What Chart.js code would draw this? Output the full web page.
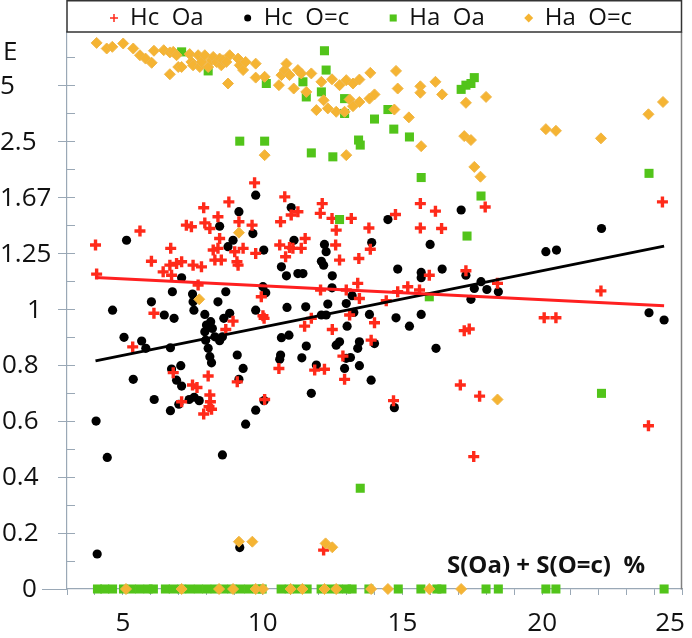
<!DOCTYPE html>
<html>
<head>
<meta charset="utf-8">
<script src="https://cdn.jsdelivr.net/npm/chart.js@4.4.0/dist/chart.umd.min.js"></script>
<style>
    html, body { margin: 0; padding: 0; background: #ffffff; }
</style>
</head>
<body>
<canvas id="scatterChart" width="692" height="638"></canvas>
<script>
(function() {
    'use strict';

    // y values are positions on the folded axis: v <= 1 as is, v > 1 as 2 - 1/v
    const yTickValues = [0, 0.2, 0.4, 0.6, 0.8, 1, 1.2, 1.4, 1.6, 1.8, 1.92];
    const yTickLabels = ['0', '0.2', '0.4', '0.6', '0.8', '1', '1.25', '1.67', '2.5', '5', 'E'];
    const xTickValues = [5, 10, 15, 20, 25];
    const seriesLabels = ['Hc  Oa', 'Hc  O=c', 'Ha  Oa', 'Ha  O=c'];
    const axisTitle = 'S(Oa) + S(O=c)  %';

    const hcOa = [
        [4.02,1.229],[4.06,1.125],[5.61,1.279],[6.02,1.171],[6.11,0.985],[6.44,1.133],[6.68,1.157],
        [6.71,1.217],[6.74,1.121],[6.92,1.163],[7.10,1.169],[7.27,1.300],[7.45,1.294],[7.51,1.157],
        [7.69,1.086],[7.81,1.151],[7.89,1.362],[7.93,1.308],[8.11,1.288],[8.23,1.211],[8.29,1.175],
        [8.40,1.330],[8.46,1.252],[8.40,1.217],[8.52,1.175],[8.79,1.383],[9.00,1.205],[9.08,1.169],
        [9.12,1.157],[9.15,1.312],[9.30,1.217],[9.62,1.300],[9.75,1.199],[9.71,1.451],[9.95,1.044],
        [10.01,0.976],[10.64,1.312],[10.61,1.229],[10.79,1.401],[10.82,1.187],[10.96,1.220],[11.02,1.336],
        [11.08,1.217],[11.26,1.348],[11.38,1.217],[11.52,1.252],[12.06,1.342],[12.13,1.377],[12.48,1.324],
        [12.63,1.282],[12.61,1.229],[12.75,1.175],[12.07,1.068],[13.17,1.324],[13.80,1.290],[14.75,1.338],
        [15.64,1.377],[16.18,1.350],[15.64,1.290],[16.40,1.288],[17.96,1.365],[13.85,1.214],[13.44,1.181],
        [13.40,1.092],[15.19,1.080],[14.83,1.062],[14.42,1.030],[13.46,1.038],[12.99,1.068],[15.61,1.068],
        [15.96,1.121],[17.27,1.137],[18.40,1.092],[22.10,1.065],[24.30,1.383],[13.11,0.979],[5.35,0.865],
        [6.80,0.773],[7.10,0.669],[7.49,0.729],[7.65,0.720],[8.05,0.761],[8.11,0.693],[8.13,0.669],
        [8.08,0.651],[8.17,0.642],[7.89,0.625],[8.68,0.927],[8.94,0.957],[9.09,0.740],[10.05,0.967],
        [10.07,0.677],[10.58,0.788],[11.50,0.939],[11.74,0.967],[11.86,0.782],[12.21,0.785],[12.49,0.927],
        [12.87,0.832],[12.93,0.749],[14.00,0.951],[17.21,0.923],[17.39,0.929],[20.07,0.969],[20.49,0.969],
        [13.88,0.889],[14.68,0.673],[17.07,0.729],[17.76,0.689],[17.55,0.473],[23.80,0.583],[12.18,0.139]
    ];

    const hcOc = [
        [5.13,1.246],[4.63,0.996],[6.02,1.026],[6.48,0.979],[6.77,1.062],[7.10,1.112],[7.49,1.054],
        [7.51,1.026],[7.54,0.996],[7.93,0.981],[8.40,1.026],[8.68,1.062],[8.82,0.985],[8.46,1.296],
        [8.76,1.223],[8.94,1.246],[9.15,1.348],[9.65,1.270],[9.75,1.407],[10.04,1.211],[10.01,1.080],
        [10.11,1.058],[9.75,0.996],[10.67,1.151],[10.85,1.119],[10.87,1.006],[11.02,1.363],[11.12,1.246],
        [11.26,1.127],[11.44,1.127],[11.54,1.008],[12.10,1.171],[12.18,1.157],[12.21,1.231],[12.27,1.205],
        [12.49,1.119],[12.48,1.076],[12.33,1.018],[12.10,0.979],[12.99,1.020],[14.48,1.320],[13.90,1.238],
        [15.99,1.231],[17.10,1.354],[14.83,1.143],[15.67,1.131],[15.67,1.112],[16.42,1.143],[17.27,1.121],
        [17.57,1.074],[17.81,1.098],[18.02,1.070],[18.43,1.062],[17.45,1.035],[20.13,1.205],[20.51,1.211],
        [22.12,1.288],[23.82,0.987],[24.36,0.961],[13.20,1.048],[13.26,0.988],[13.82,0.981],[14.77,0.969],
        [15.67,0.981],[5.04,0.899],[5.67,0.886],[5.82,0.860],[6.83,0.967],[4.04,0.600],[4.44,0.470],
        [5.37,0.749],[6.12,0.677],[6.70,0.862],[6.74,0.786],[7.07,0.798],[6.92,0.746],[7.10,0.725],
        [6.70,0.637],[7.00,0.660],[7.37,0.677],[7.55,0.685],[7.73,0.673],[7.99,0.943],[8.14,0.955],
        [8.20,0.931],[7.93,0.919],[7.96,0.889],[8.05,0.860],[8.11,0.830],[8.17,0.808],[8.29,0.901],
        [8.46,0.887],[8.56,0.901],[8.61,0.967],[9.09,0.836],[9.30,0.788],[9.15,0.749],[9.39,0.589],
        [8.56,0.479],[9.75,0.639],[10.05,0.673],[10.67,0.898],[10.94,0.907],[10.64,0.836],[10.61,0.821],
        [11.40,0.826],[11.56,0.868],[11.74,0.699],[11.92,0.800],[12.27,0.979],[12.63,0.871],[12.75,0.883],
        [12.93,0.788],[12.99,0.824],[13.02,0.939],[15.25,0.939],[13.46,0.883],[13.40,0.860],[14.00,0.877],
        [13.14,0.827],[13.46,0.798],[13.88,0.746],[16.20,0.860],[14.71,0.648],[4.08,0.125],[9.18,0.148]
    ];

    const haOa = [
        [7.10,1.919],[8.05,1.851],[10.13,1.806],[11.44,1.812],[11.56,1.758],[12.10,1.776],[12.21,1.923],
        [12.27,1.854],[12.93,1.752],[12.93,1.699],[9.18,1.600],[10.07,1.600],[11.74,1.558],[12.51,1.544],
        [17.10,1.785],[17.27,1.800],[17.45,1.806],[17.57,1.827],[14.48,1.713],[14.00,1.679],[14.69,1.643],
        [15.25,1.615],[13.43,1.604],[13.49,1.586],[12.75,1.320],[15.67,1.470],[17.81,1.404],[17.31,1.261],
        [23.82,1.485],[15.96,1.044],[22.12,0.699],[13.49,0.360],
        [4.09,0],[4.35,0],[4.63,0],[5.02,0],[5.30,0],[5.60,0],[5.90,0],[6.09,0],[6.52,0],[6.80,0],
        [7.10,0],[7.40,0],[7.70,0],[8.00,0],[8.30,0],[8.60,0],[8.90,0],[9.20,0],[9.50,0],[9.80,0],
        [9.98,0],[10.66,0],[10.95,0],[11.25,0],[11.59,0],[12.09,0],[12.40,0],[12.70,0],[13.00,0],
        [13.20,0],[13.80,0],[14.85,0],[15.66,0],[16.23,0],[16.41,0],[17.99,0],[18.43,0],[20.13,0],
        [20.49,0],[24.36,0]
    ];

    const haOc = [
        [4.06,1.951],[4.42,1.931],[4.62,1.937],[5.01,1.949],[5.37,1.931],[5.61,1.907],[5.81,1.895],
        [6.03,1.880],[6.11,1.923],[6.46,1.925],[6.68,1.917],[6.80,1.919],[6.92,1.907],[6.68,1.839],
        [6.98,1.865],[7.10,1.865],[7.39,1.911],[7.45,1.883],[7.51,1.871],[7.69,1.907],[7.75,1.865],
        [7.81,1.883],[7.93,1.907],[8.05,1.865],[8.17,1.889],[8.23,1.901],[8.35,1.883],[8.46,1.895],
        [8.52,1.871],[8.58,1.889],[8.82,1.907],[8.70,1.883],[8.76,1.806],[9.12,1.895],[9.18,1.871],
        [9.30,1.854],[9.39,1.883],[9.75,1.877],[9.75,1.827],[10.07,1.830],[10.58,1.800],[10.67,1.836],
        [10.79,1.854],[10.85,1.877],[10.96,1.836],[11.11,1.788],[11.26,1.854],[11.38,1.842],[11.56,1.776],
        [11.74,1.842],[11.92,1.711],[12.10,1.812],[12.18,1.746],[12.33,1.717],[12.48,1.821],[12.63,1.705],
        [12.75,1.800],[12.93,1.705],[12.99,1.818],[10.07,1.550],[12.99,1.550],[13.23,1.806],[13.46,1.820],
        [13.85,1.844],[14.77,1.851],[14.83,1.788],[15.64,1.796],[15.64,1.773],[16.18,1.812],[16.42,1.767],
        [17.99,1.758],[17.27,1.737],[13.82,1.752],[14.00,1.767],[13.11,1.749],[13.23,1.725],[13.46,1.740],
        [14.71,1.713],[15.23,1.685],[20.13,1.643],[20.49,1.637],[22.10,1.610],[23.80,1.696],[24.32,1.740],
        [17.21,1.618],[17.45,1.604],[15.67,1.582],[9.15,1.273],[7.73,1.035],[17.57,1.508],[17.79,1.473],
        [18.40,0.677],[9.15,0.169],[9.63,0.169],[12.25,0.163],[12.49,0.149],
        [5.11,0],[7.10,0],[8.44,0],[8.94,0],[9.75,0],[10.01,0],[11.00,0],[11.42,0],[12.21,0],[12.63,0],
        [13.88,0],[14.48,0],[15.96,0],[17.10,0]
    ];

    // fitted trend lines (end points)
    const hcOaTrend = [[4.02,1.113],[24.36,1.012]];
    const hcOcTrend = [[4.02,0.815],[24.36,1.225]];

    const FONT = '"Open Sans", "DejaVu Sans", sans-serif';
    const AXIS_COLOR = '#9aa8b6';
    const toPoints = arr => arr.map(p => ({ x: p[0], y: p[1] }));

    // tick labels, tick marks, legend box and frame
    const framePlugin = {
        id: 'frame',
        afterDraw(chart) {
            const { ctx, chartArea: a, scales: { x, y } } = chart;
            const yLabelLeft = [22, 2, 2, 2, 2, 27, 0, 0, 0, 0, 3];
            ctx.save();

            // y tick marks
            ctx.strokeStyle = AXIS_COLOR;
            ctx.lineWidth = 1;
            for (let i = 1; i <= 19; i++) {
                const py = Math.round(y.getPixelForValue(i / 10)) + 0.5;
                ctx.beginPath();
                ctx.moveTo(a.left - (i % 2 === 0 ? 9 : 0), py);
                ctx.lineTo(a.left + 8, py);
                ctx.stroke();
            }
            // x axis runs past the y axis
            const py0 = Math.round(y.getPixelForValue(0)) + 0.5;
            ctx.beginPath();
            ctx.moveTo(42, py0);
            ctx.lineTo(a.left, py0);
            ctx.stroke();

            // right frame line
            ctx.strokeStyle = '#808080';
            ctx.lineWidth = 1.5;
            ctx.beginPath();
            ctx.moveTo(a.right - 0.5, a.top);
            ctx.lineTo(a.right - 0.5, py0);
            ctx.stroke();

            // tick labels
            ctx.fillStyle = '#111111';
            ctx.font = '26px ' + FONT;
            ctx.textBaseline = 'middle';
            ctx.textAlign = 'left';
            yTickValues.forEach((v, i) => {
                ctx.fillText(yTickLabels[i], yLabelLeft[i], y.getPixelForValue(v) + 1);
            });
            ctx.textAlign = 'center';
            xTickValues.forEach((v, i) => {
                const shift = i === xTickValues.length - 1 ? -12 : 0;
                ctx.fillText(String(v), x.getPixelForValue(v) + shift, 624);
            });

            // axis title inside the plot
            ctx.font = 'bold 24px ' + FONT;
            ctx.textAlign = 'left';
            ctx.fillText(axisTitle, 447, 566, 210);

            // legend box
            ctx.strokeStyle = '#333333';
            ctx.lineWidth = 1.5;
            ctx.strokeRect(a.left, 0.75, a.right - a.left - 0.5, a.top - 0.75);

            ctx.font = '24px ' + FONT;
            ctx.textBaseline = 'middle';
            let lx = 106;
            chart.data.datasets.slice(0, 4).forEach(ds => {
                const w = ctx.measureText(ds.label).width;
                ctx.fillStyle = ds.backgroundColor;
                ctx.strokeStyle = ds.borderColor;
                Chart.helpers.drawPoint(ctx, {
                    pointStyle: ds.pointStyle,
                    radius: ds.legendRadius,
                    borderWidth: ds.pointStyle === 'cross' ? 2.5 : 0,
                    rotation: 0
                }, lx + 8, 18);
                ctx.fillStyle = '#111111';
                ctx.fillText(ds.label, lx + 24, 18);
                lx += 24 + w + 36;
            });
            ctx.restore();
        }
    };

    const ctx = document.getElementById('scatterChart').getContext('2d');

    new Chart(ctx, {
        type: 'scatter',
        data: {
            datasets: [{
                label: seriesLabels[0],
                data: toPoints(hcOa),
                pointStyle: 'cross',
                pointRadius: 5.5,
                pointBorderWidth: 3.4,
                borderColor: '#ff2a1a',
                backgroundColor: '#ff2a1a',
                legendRadius: 4,
                order: 3,
                clip: false
            }, {
                label: seriesLabels[1],
                data: toPoints(hcOc),
                pointStyle: 'circle',
                pointRadius: 4.6,
                pointBorderWidth: 0,
                borderColor: '#000000',
                backgroundColor: '#000000',
                legendRadius: 3.5,
                order: 4,
                clip: false
            }, {
                label: seriesLabels[2],
                data: toPoints(haOa),
                pointStyle: 'rect',
                pointRadius: 6.4,
                pointBorderWidth: 0,
                borderColor: '#52c41a',
                backgroundColor: '#52c41a',
                legendRadius: 5,
                order: 2,
                clip: false
            }, {
                label: seriesLabels[3],
                data: toPoints(haOc),
                pointStyle: 'rectRot',
                pointRadius: 5.5,
                pointBorderWidth: 1,
                borderColor: '#f0b648',
                backgroundColor: '#f5b433',
                legendRadius: 4.5,
                order: 1,
                clip: false
            }, {
                label: 'trend Hc Oa',
                data: toPoints(hcOaTrend),
                showLine: true,
                pointRadius: 0,
                borderWidth: 3,
                borderColor: '#ff2020',
                order: 0
            }, {
                label: 'trend Hc O=c',
                data: toPoints(hcOcTrend),
                showLine: true,
                pointRadius: 0,
                borderWidth: 3,
                borderColor: '#000000',
                order: 0
            }]
        },
        options: {
            responsive: false,
            animation: false,
            layout: {
                padding: { top: 32, right: 10, left: 0, bottom: 0 }
            },
            plugins: {
                legend: { display: false },
                tooltip: { enabled: false }
            },
            scales: {
                x: {
                    type: 'linear',
                    min: 3,
                    max: 25,
                    afterFit: scale => { scale.height = 49; },
                    ticks: { display: false, stepSize: 1 },
                    grid: {
                        drawOnChartArea: false,
                        drawTicks: true,
                        tickLength: 6,
                        color: AXIS_COLOR
                    },
                    border: { display: true, color: AXIS_COLOR, width: 1.2 }
                },
                y: {
                    type: 'linear',
                    min: 0,
                    max: 1.99,
                    afterFit: scale => { scale.width = 67; },
                    ticks: { display: false, stepSize: 0.1 },
                    grid: { display: false },
                    border: { display: true, color: AXIS_COLOR, width: 1.2 }
                }
            }
        },
        plugins: [framePlugin]
    });
})();
</script>
</body>
</html>
